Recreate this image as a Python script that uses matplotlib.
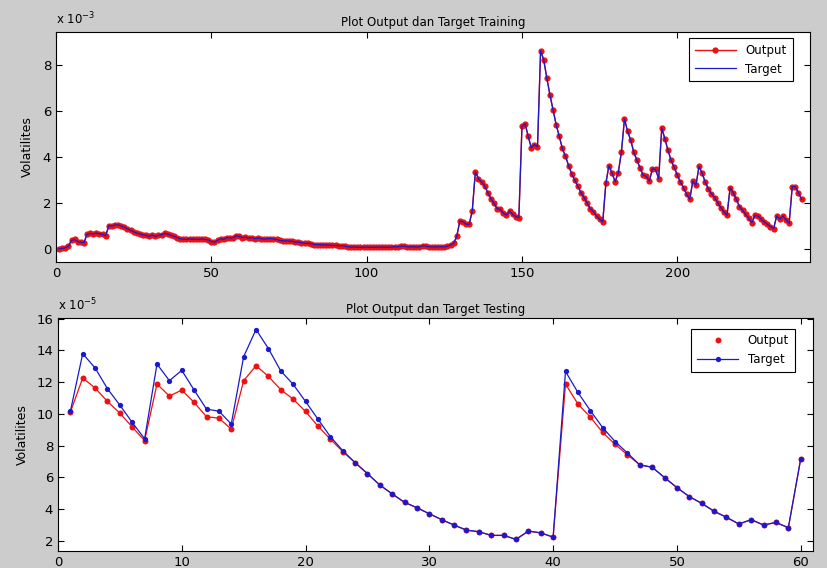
import numpy as np
import matplotlib
matplotlib.use("Agg")
import matplotlib.pyplot as plt

# Training set (values in units of 1e-3), index 1..240
train_target = [
    0.02, 0.03, 0.06, 0.12, 0.38, 0.42, 0.32, 0.30, 0.28, 0.65,
    0.68, 0.66, 0.70, 0.66, 0.64, 0.58, 1.02, 1.00, 1.05, 1.05,
    1.00, 0.95, 0.88, 0.82, 0.75, 0.70, 0.66, 0.62, 0.60, 0.55,
    0.62, 0.55, 0.60, 0.62, 0.68, 0.65, 0.60, 0.55, 0.50, 0.45,
    0.43, 0.42, 0.44, 0.43, 0.43, 0.42, 0.44, 0.42, 0.40, 0.33,
    0.30, 0.38, 0.45, 0.42, 0.50, 0.48, 0.50, 0.58, 0.55, 0.50,
    0.52, 0.48, 0.50, 0.45, 0.48, 0.46, 0.43, 0.45, 0.46, 0.44,
    0.42, 0.38, 0.36, 0.36, 0.35, 0.34, 0.30, 0.30, 0.28, 0.26,
    0.25, 0.24, 0.20, 0.20, 0.19, 0.18, 0.18, 0.17, 0.16, 0.16,
    0.15, 0.15, 0.13, 0.10, 0.09, 0.09, 0.08, 0.08, 0.08, 0.09,
    0.08, 0.08, 0.08, 0.09, 0.09, 0.08, 0.08, 0.09, 0.10, 0.10,
    0.12, 0.13, 0.10, 0.10, 0.10, 0.09, 0.10, 0.15, 0.13, 0.10,
    0.10, 0.09, 0.10, 0.10, 0.10, 0.12, 0.18, 0.25, 0.55, 1.22,
    1.19, 1.08, 1.08, 1.66, 3.36, 3.06, 2.91, 2.74, 2.45, 2.19,
    1.99, 1.76, 1.73, 1.56, 1.48, 1.66, 1.51, 1.41, 1.37, 5.33,
    5.45, 4.90, 4.40, 4.54, 4.44, 8.62, 8.22, 7.43, 6.70, 6.06,
    5.41, 4.90, 4.37, 4.04, 3.63, 3.27, 3.00, 2.74, 2.45, 2.24,
    1.99, 1.76, 1.63, 1.44, 1.30, 1.18, 2.85, 3.63, 3.29, 2.93,
    3.32, 4.21, 5.65, 5.12, 4.73, 4.21, 3.86, 3.53, 3.21, 3.17,
    2.95, 3.49, 3.46, 3.06, 5.26, 4.79, 4.30, 3.85, 3.56, 3.22,
    2.91, 2.67, 2.38, 2.16, 2.95, 2.77, 3.60, 3.29, 2.91, 2.62,
    2.41, 2.24, 2.02, 1.80, 1.63, 1.47, 2.67, 2.45, 2.16, 1.85,
    1.69, 1.51, 1.34, 1.15, 1.47, 1.44, 1.30, 1.18, 1.08, 0.98,
    0.89, 1.44, 1.30, 1.44, 1.27, 1.12, 2.71, 2.71, 2.45, 2.16,
]
train_output = list(train_target)

# Testing set (values in units of 1e-5), index 1..60
test_target = [
    10.15, 13.79, 12.89, 11.58, 10.55, 9.46, 8.43, 13.14, 12.09, 12.74,
    11.50, 10.30, 10.17, 9.36, 13.60, 15.31, 14.11, 12.70, 11.86, 10.78,
    9.67, 8.57, 7.69, 6.93, 6.24, 5.52, 4.96, 4.43, 4.09, 3.71,
    3.34, 3.00, 2.68, 2.58, 2.35, 2.35, 2.10, 2.62, 2.51, 2.24,
    12.67, 11.35, 10.21, 9.14, 8.26, 7.54, 6.79, 6.64, 5.99, 5.36,
    4.79, 4.37, 3.87, 3.49, 3.07, 3.34, 3.00, 3.17, 2.83, 7.17,
]
test_output = [
    10.10, 12.26, 11.63, 10.78, 10.05, 9.17, 8.32, 11.88, 11.12, 11.50,
    10.72, 9.82, 9.73, 9.04, 12.09, 13.03, 12.36, 11.52, 10.93, 10.15,
    9.23, 8.41, 7.63, 6.93, 6.24, 5.52, 4.96, 4.43, 4.09, 3.71,
    3.34, 3.00, 2.68, 2.58, 2.35, 2.35, 2.10, 2.62, 2.51, 2.24,
    11.88, 10.62, 9.80, 8.83, 8.09, 7.42, 6.79, 6.64, 5.99, 5.36,
    4.79, 4.37, 3.87, 3.49, 3.07, 3.34, 3.00, 3.17, 2.83, 7.17,
]

red = "#ee1111"
blue = "#1a1acc"

fig = plt.figure(figsize=(8.28, 5.68), dpi=100, facecolor="#cccccc")

# ---- training plot
ax1 = fig.add_axes([0.0676, 0.5387, 0.9106, 0.405])
x_train = np.arange(1, len(train_target) + 1)
ax1.plot(x_train, train_output, color=red, lw=1.0, marker="o", ms=4.5,
         mec=red, mfc=red, mew=0, label="Output")
ax1.plot(x_train, train_target, color=blue, lw=0.9, label="Target")
ax1.set_xlim(0, 242.7)
ax1.set_ylim(-0.56, 9.43)
ax1.set_xticks([0, 50, 100, 150, 200])
ax1.set_yticks([0, 2, 4, 6, 8])
ax1.set_title("Plot Output dan Target Training", fontsize=8.5, pad=4)
ax1.set_ylabel("Volatilites", fontsize=9, labelpad=6)
ax1.text(0.0, 1.02, "x 10$^{-3}$", transform=ax1.transAxes, fontsize=8.5,
         ha="left", va="bottom")
leg1 = ax1.legend(loc="upper right", bbox_to_anchor=(0.977, 0.975),
                  borderaxespad=0, fontsize=8.5, frameon=True,
                  fancybox=False, edgecolor="black", borderpad=0.5,
                  handlelength=3.5, framealpha=1)
leg1.get_frame().set_linewidth(0.8)

# ---- testing plot
ax2 = fig.add_axes([0.070, 0.030, 0.912, 0.410])
x_test = np.arange(1, len(test_target) + 1)
ax2.plot(x_test, test_output, color=red, lw=0.9)
ax2.plot(x_test, test_output, color=red, lw=0, marker="o", ms=4.3,
         mew=0, label="Output")
ax2.plot(x_test, test_target, color=blue, lw=0.9, marker="o", ms=3.8,
         mew=0, label="Target")
ax2.set_xlim(0, 61)
ax2.set_ylim(1.37, 16.03)
ax2.set_xticks([0, 10, 20, 30, 40, 50, 60])
ax2.set_yticks([2, 4, 6, 8, 10, 12, 14, 16])
ax2.set_title("Plot Output dan Target Testing", fontsize=8.5, pad=4)
ax2.set_ylabel("Volatilites", fontsize=9, labelpad=5)
ax2.text(0.0, 1.02, "x 10$^{-5}$", transform=ax2.transAxes, fontsize=8.5,
         ha="left", va="bottom")
leg2 = ax2.legend(loc="upper right", bbox_to_anchor=(0.976, 0.955),
                  borderaxespad=0, fontsize=8.5, frameon=True,
                  fancybox=False, edgecolor="black", borderpad=0.5,
                  handlelength=3.5, framealpha=1)
leg2.get_frame().set_linewidth(0.8)

for ax in (ax1, ax2):
    ax.set_facecolor("white")
    ax.tick_params(direction="in", top=True, right=True, length=4,
                   labelsize=9.5, width=0.8)
    for s in ax.spines.values():
        s.set_linewidth(0.8)

fig.savefig("out.png", dpi=100, facecolor=fig.get_facecolor())
